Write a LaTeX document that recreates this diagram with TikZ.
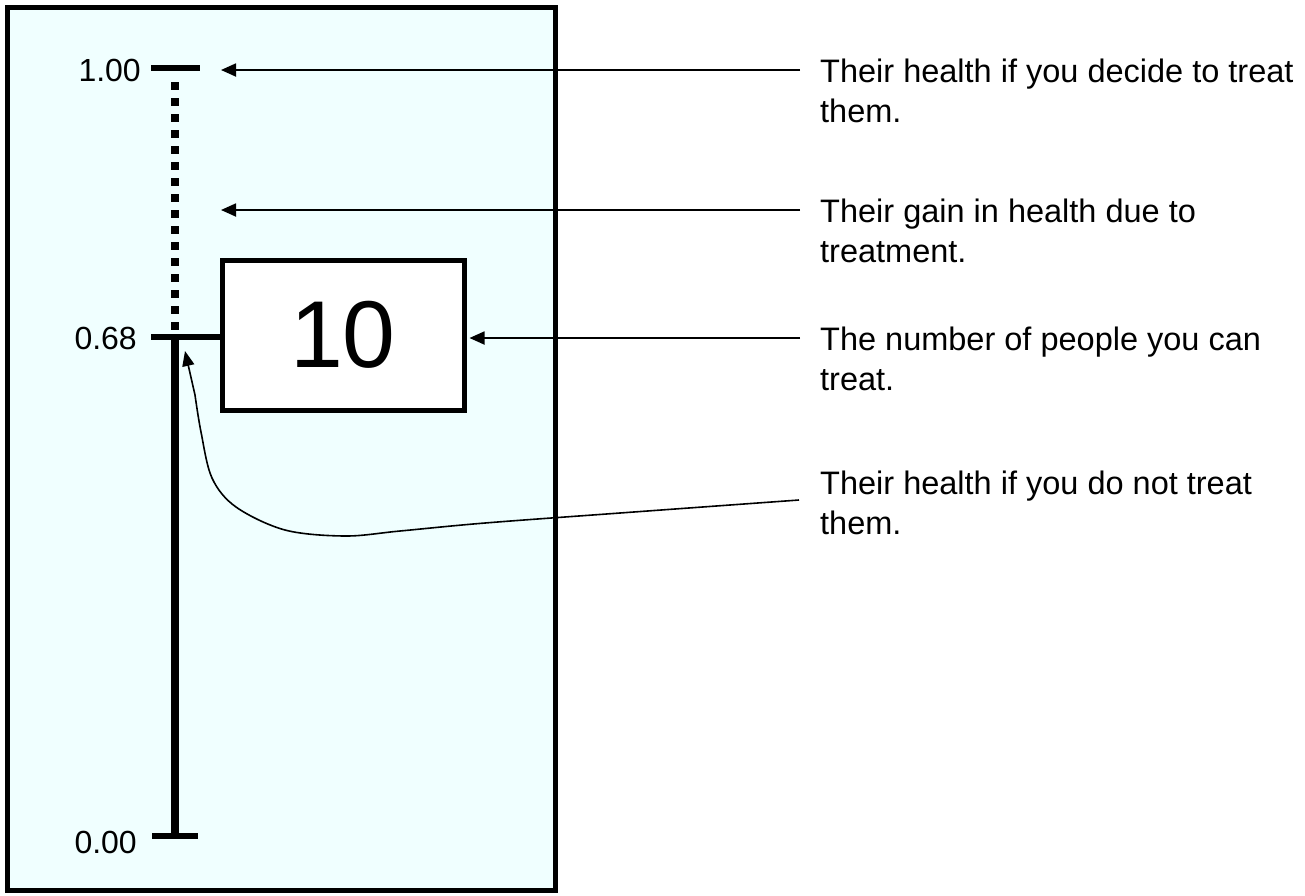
\documentclass[tikz,border=0pt]{standalone}
\usepackage{fontspec}
\setmainfont{Liberation Sans}
\usetikzlibrary{arrows.meta}
\definecolor{panelfill}{HTML}{F0FFFF}
\tikzset{
  lbl/.style={anchor=north west, inner sep=0pt, align=left, font=\fontsize{32.5}{40}\selectfont},
  ticklbl/.style={anchor=east, inner sep=0pt, font=\fontsize{32}{30}\selectfont},
  tickline/.style={line width=6pt},
  ptr/.style={line width=1.8pt, -{Triangle[length=15pt,width=13pt]}},
  thinptr/.style={line width=1.6pt, -{Triangle[length=15pt,width=12pt]}},
}
\begin{document}
\begin{tikzpicture}[x=1pt,y=-1pt]
\useasboundingbox (0,0) rectangle (1305,895);
% panel
\draw[line width=5pt, fill=panelfill] (7,7) rectangle (555,890);
% axis
\draw[line width=8pt, dash pattern=on 8pt off 8pt] (175,82) -- (175,334);
\draw[line width=8pt] (175,334) -- (175,836);
\draw[tickline] (151,68) -- (200,68);
\draw[tickline] (152,836) -- (198,836);
% box
\node[draw, line width=5pt, fill=white, minimum width=242pt, minimum height=150pt, inner sep=0pt,
      font=\fontsize{95}{95}\selectfont] (box) at (343,335) {10};
\draw[tickline] (151,337) -- (box.west |- 0,337);
% tick labels
\node[ticklbl] (t100) at (141,70) {1.00};
\node[ticklbl] (t068) at (137,338) {0.68};
\node[ticklbl] (t000) at (137,842) {0.00};
% labels
\node[lbl] (l1) at (820,59) {Their health if you decide to treat\\them.};
\node[lbl] (l2) at (820,199) {Their gain in health due to\\treatment.};
\node[lbl] (l3) at (820,327) {The number of people you can\\treat.};
\node[lbl] (l4) at (820,471) {Their health if you do not treat\\them.};
% arrow anchors
\coordinate (s1) at (800,70);
\coordinate (s2) at (800,210);
\coordinate (s3) at (800,338);
\coordinate (s4) at (799,500);
\coordinate (e1) at (221,70);
\coordinate (e2) at (221,210);
\coordinate (e4) at (185,351);
\draw[ptr] (s1) -- (e1);
\draw[ptr] (s2) -- (e2);
\draw[ptr] (s3) -- ([xshift=3pt]box.east |- s3);
\draw[thinptr] plot[smooth, tension=0.55] coordinates {(s4) (620,513) (485,523) (400,531) (345,536) (285,530) (236,507) (212,478) (201,432) (195,395)} -- (e4);
\end{tikzpicture}
\end{document}
